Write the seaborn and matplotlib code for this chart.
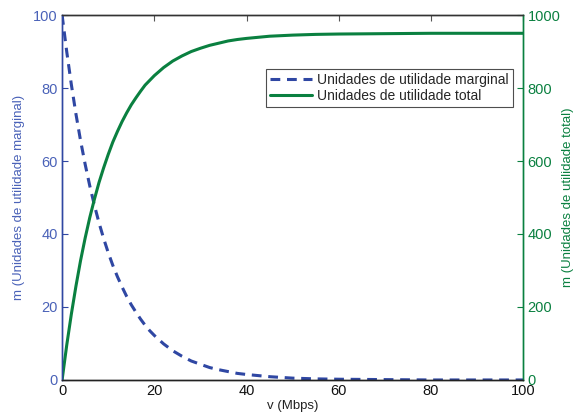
import numpy as np
import pandas as pd
import matplotlib
matplotlib.use('Agg')
import matplotlib.pyplot as plt
import seaborn as sns

# values
v = [0, 1, 2, 3, 4, 5, 6, 7, 8, 9, 10, 11, 12, 13, 14, 15, 16, 17, 18, 19, 20,
     22, 24, 26, 28, 30, 32, 34, 36, 38, 40, 45, 50, 55, 60, 70, 80, 90, 100]
marginal = [100, 90.0, 81.0, 72.9, 65.6, 59.1, 53.2, 47.9, 43.1, 38.8, 34.9, 31.4, 28.3, 25.5,
            22.9, 20.6, 18.6, 16.7, 15.0, 13.5, 12.2,
            9.9, 8.0, 6.5, 5.2, 4.3, 3.4, 2.8, 2.3, 1.8, 1.5, 0.9, 0.5, 0.3, 0.2, 0.1, 0.0, 0.0, 0.0]
total = [0, 95, 180, 257, 327, 389, 445, 495, 541, 581, 618, 652, 681, 708,
         732, 754, 773, 791, 808, 821, 834,
         856, 874, 888, 900, 909, 917, 923, 929, 933, 936, 942, 945, 947, 948, 949, 950, 950, 950]

df = pd.DataFrame({'v': v, 'marginal': marginal, 'total': total})

sns.set_style('white')
plt.rcParams['font.family'] = ['Liberation Sans', 'DejaVu Sans']

blue = '#2f47a3'
blue_txt = '#4a62b8'
green = '#0a8040'

fig = plt.figure(figsize=(5.75, 4.18), dpi=100)
ax = fig.add_axes([0.108, 0.091, 0.802, 0.873])
ax2 = ax.twinx()

sns.lineplot(x='v', y='marginal', data=df, ax=ax, color=blue, linewidth=2.2,
             linestyle=(0, (3.2, 2.2)), label='Unidades de utilidade marginal', legend=False)
sns.lineplot(x='v', y='total', data=df, ax=ax2, color=green, linewidth=2.2,
             label='Unidades de utilidade total', legend=False)

ax.set_xlim(0, 100)
ax.set_ylim(0, 100)
ax2.set_ylim(0, 1000)
ax.set_xticks([0, 20, 40, 60, 80, 100])
ax.set_yticks([0, 20, 40, 60, 80, 100])
ax2.set_yticks([0, 200, 400, 600, 800, 1000])

ax.set_xlabel('v (Mbps)', fontsize=9.5, color='#222222', labelpad=1)
ax.set_ylabel('m (Unidades de utilidade marginal)', fontsize=9.5, color=blue_txt, labelpad=6)
ax2.set_ylabel('m (Unidades de utilidade total)', fontsize=9.5, color=green, labelpad=1)

ax.tick_params(axis='x', direction='in', length=4, colors='#555555', labelsize=10.5,
               labelcolor='#111111', top=True, pad=3)
ax.tick_params(axis='y', direction='in', length=4, colors=blue, labelcolor=blue_txt, labelsize=10.5, pad=3)
ax2.tick_params(axis='y', direction='in', length=4, colors=green, labelcolor=green, labelsize=10.5, pad=3)

for a in (ax, ax2):
    a.spines['top'].set_color('#333333')
    a.spines['bottom'].set_color('#222222')
    a.spines['left'].set_color(blue)
    a.spines['right'].set_color(green)
    for s in a.spines.values():
        s.set_linewidth(1.0)

h1, l1 = ax.get_legend_handles_labels()
h2, l2 = ax2.get_legend_handles_labels()
leg = ax2.legend(h1 + h2, l1 + l2, loc='upper right', bbox_to_anchor=(0.978, 0.852),
                 fontsize=10, frameon=True, fancybox=False, borderpad=0.3,
                 handlelength=3.0, handletextpad=0.4, labelspacing=0.15, borderaxespad=0)
leg.get_frame().set_edgecolor('#222222')
leg.get_frame().set_linewidth(0.8)

fig.savefig('out.png', dpi=100)
